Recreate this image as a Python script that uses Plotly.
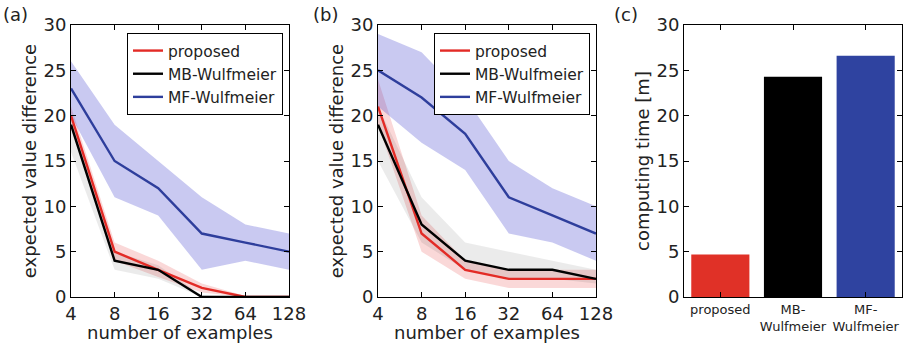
import plotly.graph_objects as go

# ---------------- data ----------------
examples = [4, 8, 16, 32, 64, 128]

# panel (a)
a_prop = [20, 5, 3, 1, 0, 0]
a_prop_lo = [19, 4, 2.2, 0.5, 0, 0]
a_prop_hi = [21, 6, 4, 1.5, 0.1, 0.1]
a_mb = [19, 4, 3, 0, 0, 0]
a_mb_lo = [16, 3, 2, 0, 0, 0]
a_mb_hi = [20, 5, 3.5, 0.2, 0, 0]
a_mf = [23, 15, 12, 7, 6, 5]
a_mf_lo = [20, 11, 9, 3, 4, 3]
a_mf_hi = [26, 19, 15, 11, 8, 7]

# panel (b)
b_prop = [21, 7, 3, 2, 2, 2]
b_prop_lo = [19, 5, 2, 1, 1, 1]
b_prop_hi = [24, 9, 4, 3, 3, 3]
b_mb = [19, 8, 4, 3, 3, 2]
b_mb_lo = [15, 6, 3, 2, 2, 1.5]
b_mb_hi = [21, 11, 6, 5, 4, 3]
b_mf = [25, 22, 18, 11, 9, 7]
b_mf_lo = [21, 17, 14, 7, 6, 4]
b_mf_hi = [29, 27, 22, 15, 12, 10]

# panel (c)
methods = ["proposed", "MB-<br>Wulfmeier", "MF-<br>Wulfmeier"]
comp_time = [4.7, 24.3, 26.6]

# ---------------- styles ----------------
RED = "#e32b26"
BLACK = "#000000"
BLUE = "#2e3e9c"
BAR_COLORS = ["#e03127", "#000000", "#2f43a0"]
BAND = {"red": "rgba(230,60,60,0.2)", "black": "rgba(0,0,0,0.08)", "blue": "rgba(40,40,200,0.25)"}
FONT = "DejaVu Sans"
TXT = "#222"

fig = go.Figure()


def add_panel(xa, ya, legend, series):
    for name, y, lo, hi, col, bcol in series:
        fig.add_trace(go.Scatter(
            x=examples + examples[::-1], y=hi + lo[::-1], fill="toself",
            fillcolor=bcol, line=dict(width=0), mode="lines",
            hoverinfo="skip", showlegend=False, xaxis=xa, yaxis=ya))
    for name, y, lo, hi, col, bcol in series:
        fig.add_trace(go.Scatter(
            x=examples, y=y, mode="lines", name=name,
            line=dict(color=col, width=2.4), xaxis=xa, yaxis=ya,
            legend=legend))


add_panel("x", "y", "legend", [
    ("proposed", a_prop, a_prop_lo, a_prop_hi, RED, BAND["red"]),
    ("MB-Wulfmeier", a_mb, a_mb_lo, a_mb_hi, BLACK, BAND["black"]),
    ("MF-Wulfmeier", a_mf, a_mf_lo, a_mf_hi, BLUE, BAND["blue"]),
])
add_panel("x2", "y2", "legend2", [
    ("proposed", b_prop, b_prop_lo, b_prop_hi, RED, BAND["red"]),
    ("MB-Wulfmeier", b_mb, b_mb_lo, b_mb_hi, BLACK, BAND["black"]),
    ("MF-Wulfmeier", b_mf, b_mf_lo, b_mf_hi, BLUE, BAND["blue"]),
])

fig.add_trace(go.Bar(
    x=methods, y=comp_time, marker=dict(color=BAR_COLORS, line=dict(width=0)),
    width=0.8, xaxis="x3", yaxis="y3", showlegend=False))

W, H = 905, 343
top, bottom = 25, 297
ydom = [1 - bottom / H, 1 - top / H]

axis_common = dict(
    showline=True, linecolor="black", linewidth=1, mirror="ticks",
    ticks="inside", ticklen=5, tickcolor="black", showgrid=False,
    zeroline=False, automargin=False,
    tickfont=dict(size=18, color=TXT, family=FONT),
)
title_font = dict(size=18, color=TXT, family=FONT)

xlog = dict(axis_common, type="log", range=[0.60206, 2.10721],
            tickvals=examples, ticktext=[str(v) for v in examples],
            title=dict(text="number of examples", font=title_font, standoff=1))
yval = dict(axis_common, range=[0, 30], tickvals=[0, 5, 10, 15, 20, 25, 30],
            title=dict(text="expected value difference", font=title_font, standoff=2))

legend_common = dict(bordercolor="black", borderwidth=1, bgcolor="white",
                     font=dict(size=15.5, color=TXT, family=FONT), tracegroupgap=0)

layout = dict(
    width=W, height=H, margin=dict(l=0, r=0, t=0, b=0, autoexpand=False),
    paper_bgcolor="white", plot_bgcolor="white",
    font=dict(family=FONT, color=TXT),
    xaxis=dict(xlog, domain=[71 / W, 289 / W], anchor="y"),
    yaxis=dict(yval, domain=ydom, anchor="x"),
    xaxis2=dict(xlog, domain=[378 / W, 596 / W], anchor="y2"),
    yaxis2=dict(yval, domain=ydom, anchor="x2"),
    xaxis3=dict(axis_common, domain=[684 / W, 902 / W], anchor="y3",
                range=[-0.5, 2.5], tickfont=dict(size=13, color=TXT, family=FONT)),
    yaxis3=dict(axis_common, domain=ydom, anchor="x3", range=[0, 30],
                tickvals=[0, 5, 10, 15, 20, 25, 30],
                title=dict(text="computing time [m]", font=title_font, standoff=2)),
    legend=dict(legend_common, x=283 / W, xanchor="right", y=1 - 33 / H, yanchor="top"),
    legend2=dict(legend_common, x=590 / W, xanchor="right", y=1 - 33 / H, yanchor="top"),
    bargap=0.2,
)
fig.update_layout(**layout)

for txt, xpx in [("(a)", 1), ("(b)", 311), ("(c)", 612)]:
    fig.add_annotation(text=txt, x=xpx / W, y=1 - 14 / H, xref="paper", yref="paper",
                       xanchor="left", yanchor="middle", showarrow=False,
                       font=dict(size=18, color=TXT, family=FONT))

fig.write_html("out.html")
